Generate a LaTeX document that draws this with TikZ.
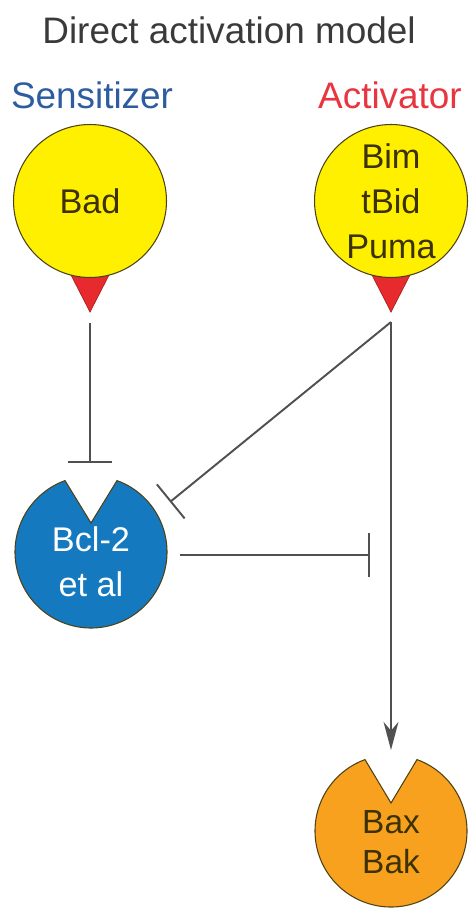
\documentclass[tikz,border=0pt]{standalone}
\usepackage{fontspec}
\setmainfont{Liberation Sans}
\usetikzlibrary{arrows.meta, calc}
\definecolor{ink}{HTML}{505050}
\definecolor{titlegrey}{HTML}{3A3A3A}
\definecolor{sensblue}{HTML}{2D5D9F}
\definecolor{actred}{HTML}{E8353F}
\definecolor{molyellow}{HTML}{FFF000}
\definecolor{moledge}{HTML}{4E4214}
\definecolor{spikered}{HTML}{E62A2E}
\definecolor{bclblue}{HTML}{1479BF}
\definecolor{baxorange}{HTML}{F7A11E}
\definecolor{darktext}{HTML}{3B3200}

\begin{document}
\begin{tikzpicture}[
  x=0.02cm, y=0.02cm,
  lbl/.style={font=\fontsize{21}{24}\selectfont},
  ball/.style={circle, draw=moledge, line width=0.6pt, fill=molyellow,
               minimum size=3.06cm, inner sep=0pt, align=center,
               text=darktext, font=\fontsize{19.5}{25.5}\selectfont},
  pac/.style={draw=moledge, line width=0.6pt},
  inside/.style={align=center, inner sep=0pt, font=\fontsize{19.5}{25.5}\selectfont},
  spike/.style={fill=spikered, draw=spikered!75!black, line width=0.4pt},
  inhibit/.style={draw=ink, line width=1.1pt, -{Bar[width=25pt]}},
  activate/.style={draw=ink, line width=1.1pt,
                   -{Stealth[length=16pt, width=8.5pt, inset=5pt]}}
]
\useasboundingbox (0,0) rectangle (470,-908);

% headings
\node[lbl, text=titlegrey] (title)   at (229,-30) {Direct activation model};
\node[lbl, text=sensblue]  (senslbl) at (92,-95)  {Sensitizer};
\node[lbl, text=actred]    (actlbl)  at (390,-95) {Activator};

% BH3-only proteins with their spikes
\coordinate (badtip) at (90,-312);
\coordinate (acttip) at (391,-312);
\draw[spike] (badtip) -- ++(-19,37) -- ++(38,0) -- cycle;
\draw[spike] (acttip) -- ++(-19,37) -- ++(38,0) -- cycle;
\node[ball] (bad) at (90,-201)  {Bad};
\node[ball] (act) at (391,-201) {Bim\\tBid\\Puma};

% notched targets
\coordinate (bclc) at (91,-552);
\draw[pac, fill=bclblue] (91,-523) -- ($(bclc)+(70:76)$)
  arc[start angle=70, end angle=-250, radius=76] -- cycle;
\node[inside, text=white] (bcl) at (91,-562) {Bcl-2\\et al};

\coordinate (baxc) at (391,-831);
\draw[pac, fill=baxorange] (391,-803) -- ($(baxc)+(70:76)$)
  arc[start angle=70, end angle=-250, radius=76] -- cycle;
\node[inside, text=darktext, font=\fontsize{19}{22.7}\selectfont] (bax)
  at (391,-842) {Bax\\Bak};

% ends of the connectors
\coordinate (badout) at (90,-323);
\coordinate (actout) at (391,-322);
\coordinate (badbar) at (90,-463);
\coordinate (bclbar) at (170,-502);
\coordinate (bclout) at (180,-555);
\coordinate (axisbar) at (370,-555);
\coordinate (baxtop) at (391,-750);

\draw[inhibit]  (badout) -- (badbar);
\draw[inhibit]  (actout) -- (bclbar);
\draw[activate] (actout) -- (baxtop);
\draw[inhibit]  (bclout) -- (axisbar);
\end{tikzpicture}
\end{document}
